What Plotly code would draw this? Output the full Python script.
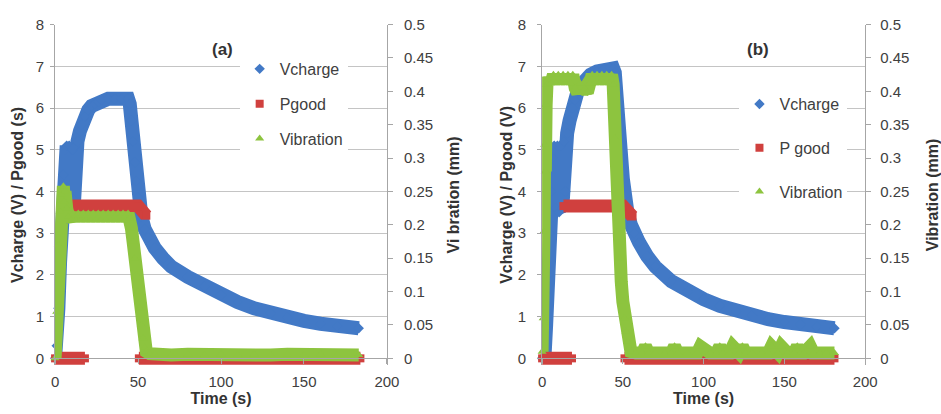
import plotly.graph_objects as go

# ---------------- panel (a) ----------------
t_vch_a = [0, 1, 2, 3, 4, 5, 6, 7, 7.5, 8.5, 9.5, 10.5, 11.5, 12.5, 13.5, 15, 16, 18, 20, 22,
           24, 26, 28, 32, 36, 40, 44, 45, 46, 47, 48, 49, 50, 51, 52, 54, 56, 60, 65, 70,
           80, 90, 100, 110, 120, 130, 140, 150, 160, 170, 183]
vch_a = [0, 0.3, 1.2, 2.3, 3.4, 4.4, 5.0, 5.1, 3.8, 5.1, 3.7, 5.0, 3.8, 5.1, 5.2, 5.45, 5.6, 5.8, 5.95, 6.05,
         6.1, 6.15, 6.2, 6.22, 6.22, 6.22, 6.22, 6.1, 5.7, 5.2, 4.7, 4.25, 3.85, 3.6, 3.4, 3.1, 2.9, 2.65, 2.4, 2.2,
         1.95, 1.72, 1.52, 1.35, 1.2, 1.08, 0.98, 0.9, 0.83, 0.77, 0.72]

t_pg_a = [0, 18, None, 8.5, 50, 55, None, 50.5, 184]
pg_a = [0, 0, None, 3.65, 3.65, 3.42, None, 0, 0]

t_vib_a = [0, 1, 2, 3, 4, 5, 5.5, 6, 7, 8,
           9.5, 11, 12.5, 14, 15.5, 17, 18.5, 20, 21.5, 23, 24.5, 26, 27.5, 29, 30.5, 32,
           33.5, 35, 36.5, 38, 39.5, 41, 42.5, 44,
           45, 46, 47, 48, 49, 50, 51, 52, 53, 54, 55, 57,
           60, 70, 80, 90, 100, 110, 120, 130, 140, 150, 160, 170, 183]
vib_a = [0.0, 0.07, 0.17, 0.22, 0.245, 0.258, 0.235, 0.25, 0.225, 0.212,
         0.207, 0.217, 0.207, 0.217, 0.207, 0.217, 0.207, 0.217, 0.207, 0.217, 0.207, 0.217, 0.207, 0.217, 0.207, 0.217,
         0.207, 0.217, 0.207, 0.217, 0.207, 0.217, 0.207, 0.217,
         0.21, 0.195, 0.175, 0.15, 0.125, 0.1, 0.075, 0.05, 0.03, 0.016, 0.01, 0.007,
         0.006, 0.005, 0.006, 0.005, 0.006, 0.005, 0.006, 0.005, 0.006, 0.005, 0.006, 0.005, 0.005]

# ---------------- panel (b) ----------------
t_vch_b = [0, 1.5, 2.5, 3.5, 4.5, 5.5, 6.5, 7.5, 8.5, 9.5, 10.5, 11.5, 12.5, 13.5, 14.5, 15.5,
           17, 18.5, 20, 22, 24, 27, 30, 34, 38, 42, 44,
           45, 46, 47, 48, 49, 50, 51, 52, 53, 55, 57, 60, 65, 70,
           80, 90, 100, 110, 120, 130, 140, 150, 160, 170, 181]
vch_b = [0, 0.05, 0.8, 2.0, 3.0, 4.0, 4.8, 5.1, 3.6, 5.1, 3.5, 5.1, 3.6, 5.2, 4.0, 5.4,
         5.7, 6.0, 6.2, 6.4, 6.55, 6.7, 6.8, 6.88, 6.93, 6.97, 6.95,
         6.85, 6.5, 6.0, 5.4, 4.8, 4.3, 3.9, 3.6, 3.45, 3.2, 3.0, 2.78, 2.45, 2.2,
         1.85, 1.6, 1.42, 1.26, 1.13, 1.02, 0.94, 0.87, 0.81, 0.76, 0.72]

t_pg_b = [0, 18.5, None, 13.2, 50, 56, None, 51, 181]
pg_b = [0, 0, None, 3.65, 3.65, 3.4, None, 0, 0]

t_vib_b = [0, 0.7, 1.2, 1.6, 2.0, 2.5, 3, 4,
           5.5, 7, 8.5, 10, 11.5, 13, 14.5, 16, 17.5, 19, 20.5, 22, 23.5, 25, 26.5, 28,
           29.5, 31, 32.5, 34, 35.5, 37, 38.5, 40, 41.5, 43, 44,
           45, 46, 47, 48, 49, 50, 51, 52, 53, 54, 55,
           58, 62, 64, 66, 70, 76, 80, 82, 84, 90, 96, 98, 104, 108, 110, 112, 116, 118,
           122, 124, 126, 130, 136, 140, 142, 146, 148, 152, 156, 158, 160, 162, 166, 168,
           172, 176, 181]
vib_b = [0.01, 0.06, 0.19, 0.32, 0.28, 0.38, 0.41, 0.42,
         0.412, 0.425, 0.412, 0.425, 0.412, 0.425, 0.412, 0.425, 0.412, 0.425, 0.405, 0.398, 0.412, 0.398, 0.404, 0.398,
         0.412, 0.425, 0.412, 0.425, 0.412, 0.425, 0.412, 0.425, 0.412, 0.425, 0.41,
         0.33, 0.24, 0.19, 0.15, 0.115, 0.085, 0.06, 0.04, 0.025, 0.015, 0.01,
         0.008, 0.008, 0.018, 0.008, 0.008, 0.008, 0.008, 0.018, 0.008, 0.008, 0.008, 0.018, 0.008, 0.008, 0.018, 0.008, 0.008, 0.018,
         0.008, 0.018, 0.008, 0.008, 0.008, 0.008, 0.018, 0.008, 0.018, 0.008, 0.008, 0.018, 0.008, 0.008, 0.018, 0.008,
         0.008, 0.008, 0.008]

BLUE, RED, GREEN = "#4279c6", "#d0403e", "#8dc43f"
FONT = "Liberation Sans, Arial, sans-serif"
TXT = "#404040"
GRID = "#c4c4c4"
AXL = "#a6a6a6"

fig = go.Figure()


def add_series(x, y, name, color, symbol, xa, ya, legend, band=13, msize=8):
    # thick band of overlapping markers, drawn as a wide line plus the point markers
    fig.add_trace(go.Scatter(x=x, y=y, mode="lines", xaxis=xa, yaxis=ya,
                             line=dict(color=color, width=band), connectgaps=False,
                             showlegend=False, hoverinfo="skip", legendgroup=legend + name))
    fig.add_trace(go.Scatter(x=x, y=y, mode="markers", xaxis=xa, yaxis=ya, name=name,
                             marker=dict(color=color, symbol=symbol, size=msize),
                             cliponaxis=False, legend=legend, legendgroup=legend + name))


add_series(t_vch_a, vch_a, "Vcharge", BLUE, "diamond", "x", "y", "legend", band=14)
add_series(t_pg_a, pg_a, "Pgood", RED, "square", "x", "y", "legend")
add_series(t_vib_a, vib_a, "Vibration", GREEN, "triangle-up", "x", "y2", "legend")

add_series(t_vch_b, vch_b, "Vcharge", BLUE, "diamond", "x2", "y3", "legend2", band=14)
add_series(t_pg_b, pg_b, "P good", RED, "square", "x2", "y3", "legend2")
add_series(t_vib_b, vib_b, "Vibration", GREEN, "triangle-up", "x2", "y4", "legend2")

W, H = 941, 414
Y0_PX, Y8_PX, PAD = 358, 16, 7              # pixel rows of 0 and 8; room below 0 for the marker bands
unit = (Y0_PX - Y8_PX) / 8.0
ydom = [(H - Y0_PX - PAD) / H, (H - Y8_PX) / H]
ylo = -PAD / unit
xdom_a = [52 / W, 390 / W]
xdom_b = [548 / W, 877 / W]
xpos = (H - Y0_PX) / H

tickfont = dict(family=FONT, size=15, color=TXT)
titlefont = dict(family=FONT, size=16, color="#333333", weight="bold")


def xax(dom):
    return dict(domain=dom, anchor="free", position=xpos, range=[0, 200], dtick=50,
                showgrid=False, zeroline=False, showline=True, linecolor=AXL,
                ticks="outside", ticklen=5, tickcolor=AXL,
                tickfont=tickfont, ticklabelstandoff=5,
                title=dict(text="Time (s)", font=titlefont, standoff=3))


def yleft(anchor, title, standoff, tstand):
    return dict(domain=ydom, anchor=anchor, range=[ylo, 8], tick0=0, dtick=1, showgrid=True,
                gridcolor=GRID, zeroline=False, showline=True, linecolor=AXL, ticks="outside",
                ticklen=4, tickcolor=AXL, tickfont=tickfont, ticklabelstandoff=tstand,
                title=dict(text=title, font=titlefont, standoff=standoff))


def yright(overlay, anchor, title, standoff, tstand):
    return dict(overlaying=overlay, anchor=anchor, side="right", range=[ylo / 16, 0.5],
                tick0=0, dtick=0.05, showgrid=False, zeroline=False, showline=True, linecolor=AXL,
                ticks="outside", ticklen=5, tickcolor=AXL, tickfont=tickfont,
                ticklabelstandoff=tstand,
                title=dict(text=title, font=titlefont, standoff=standoff))


legfont = dict(family=FONT, size=16, color=TXT)

fig.update_layout(
    width=W, height=H, margin=dict(l=0, r=0, t=0, b=0),
    paper_bgcolor="white", plot_bgcolor="white",
    xaxis=xax(xdom_a),
    yaxis=yleft("x", "Vcharge (V) / Pgood (s)", 8, 3),
    yaxis2=yright("y", "x", "Vi bration (mm)", 15, 8),
    xaxis2=xax(xdom_b),
    yaxis3=yleft("x2", "Vcharge (V) / Pgood (V)", 1, 8),
    yaxis4=yright("y3", "x2", "Vibration (mm)", 18, 6),
    legend=dict(x=240 / W, y=1 - 44 / H, xanchor="left", yanchor="top", bgcolor="white",
                font=legfont, tracegroupgap=11, itemwidth=30),
    legend2=dict(x=749 / W, y=1 - 80 / H, xanchor="left", yanchor="top", bgcolor="white",
                 font=legfont, tracegroupgap=20, itemwidth=30),
    annotations=[
        dict(text="(a)", x=223 / W, y=1 - 42 / H, xref="paper", yref="paper", showarrow=False,
             xanchor="center", yanchor="middle",
             font=dict(family=FONT, size=17, color="#333333", weight="bold")),
        dict(text="(b)", x=768 / W, y=1 - 42 / H, xref="paper", yref="paper", showarrow=False,
             xanchor="center", yanchor="middle",
             font=dict(family=FONT, size=17, color="#333333", weight="bold")),
    ],
    hovermode=False,
)

fig.write_html("out.html")
